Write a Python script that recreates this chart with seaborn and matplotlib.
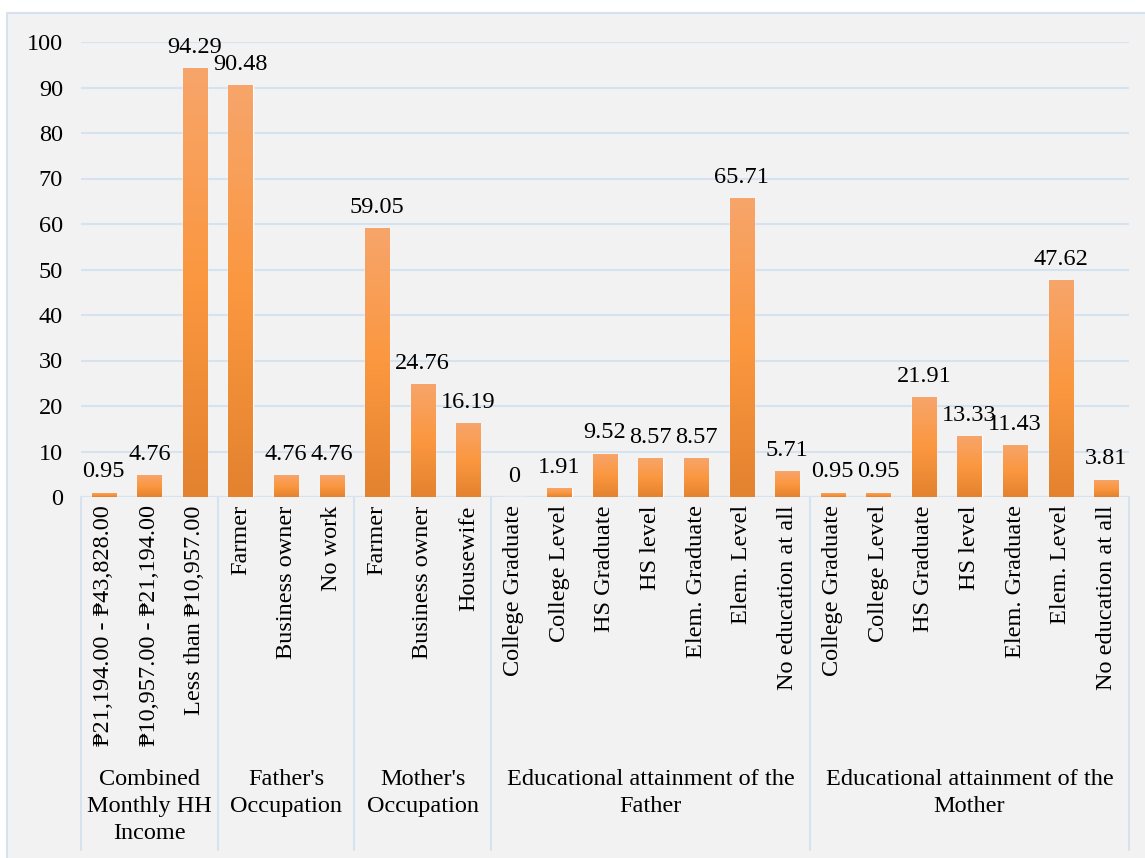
import numpy as np
import pandas as pd
import matplotlib.pyplot as plt
import matplotlib.transforms as mtransforms
from matplotlib.colors import LinearSegmentedColormap
from matplotlib.patches import Rectangle
import seaborn as sns

# --- Data ---
groups = [
    "Combined\nMonthly HH\nIncome",
    "Father's\nOccupation",
    "Mother's\nOccupation",
    "Educational attainment of the\nFather",
    "Educational attainment of the\nMother",
]
income_items = ["₱21,194.00 - ₱43,828.00", "₱10,957.00 - ₱21,194.00", "Less than ₱10,957.00"]
income_vals = [0.95, 4.76, 94.29]
father_occ_items = ["Farmer", "Business owner", "No work"]
father_occ_vals = [90.48, 4.76, 4.76]
mother_occ_items = ["Farmer", "Business owner", "Housewife"]
mother_occ_vals = [59.05, 24.76, 16.19]
educ_items = ["College Graduate", "College Level", "HS Graduate", "HS level",
              "Elem. Graduate", "Elem. Level", "No education at all"]
father_educ_vals = [0, 1.91, 9.52, 8.57, 8.57, 65.71, 5.71]
mother_educ_vals = [0.95, 0.95, 21.91, 13.33, 11.43, 47.62, 3.81]

item_lists = [income_items, father_occ_items, mother_occ_items, educ_items, educ_items]
val_lists = [income_vals, father_occ_vals, mother_occ_vals, father_educ_vals, mother_educ_vals]

rows = []
for g, items, vals in zip(groups, item_lists, val_lists):
    for it, v in zip(items, vals):
        rows.append({"group": g, "item": it, "value": v})
df = pd.DataFrame(rows)
df["slot"] = np.arange(len(df))

# --- Style ---
sns.set_style("white")
FONT = ["Liberation Serif", "DejaVu Serif"]
plt.rcParams["font.family"] = FONT
plt.rcParams["text.color"] = "black"
plt.rcParams["xtick.color"] = "black"
plt.rcParams["ytick.color"] = "black"
FS = 17.5
GRID = "#d6e2f0"
BG = "#f2f2f2"

W, H = 1145, 858
fig = plt.figure(figsize=(W / 100, H / 100), dpi=100)
fig.patch.set_facecolor("white")
fig.patches.append(Rectangle((7 / W, -10 / H), 1.1, (H - 13 + 10) / H,
                             transform=fig.transFigure, facecolor=BG,
                             edgecolor=GRID, linewidth=1.5, zorder=-10))

ax = fig.add_axes([81 / W, (H - 497) / H, (1129 - 81) / W, (497 - 42) / H])
ax.set_facecolor("none")

sns.barplot(data=df, x="slot", y="value", color="#f99a45", width=0.53,
            ax=ax, errorbar=None, zorder=2)

# gradient fill per bar
cmap = LinearSegmentedColormap.from_list("orng", ["#e3822f", "#fb973f", "#f7a56b"])
grad = np.linspace(0, 1, 256).reshape(-1, 1)
for p in ax.patches:
    x0, w, h = p.get_x(), p.get_width(), p.get_height()
    if h <= 0:
        continue
    im = ax.imshow(grad, extent=[x0, x0 + w, 0, h], origin="lower",
                   aspect="auto", cmap=cmap, zorder=3)
    im.set_clip_path(p)

ax.set_xlim(-0.5, len(df) - 0.5)
ax.set_ylim(0, 100)
ax.set_yticks(range(0, 101, 10))
ax.yaxis.grid(True, color=GRID, linewidth=1.5)
ax.set_axisbelow(True)
for s in ax.spines.values():
    s.set_visible(False)
ax.axhline(0, color=GRID, linewidth=1.5, zorder=1)

ax.tick_params(axis="y", length=0, labelsize=FS, pad=13, labelcolor="black")
ax.set_xticks(df["slot"])
ax.set_xticklabels(df["item"], rotation=90, fontsize=FS, va="top", family=FONT)
ax.tick_params(axis="x", length=0, pad=6, labelcolor="black")
ax.set_xlabel("")
ax.set_ylabel("")

# value labels
for s, v in zip(df["slot"], df["value"]):
    ax.annotate(f"{v:g}", (s, v), xytext=(0, 11), textcoords="offset points",
                ha="center", va="baseline", fontsize=FS, color="black",
                annotation_clip=False)

# group separators and labels
sizes = [len(i) for i in item_lists]
edges = np.concatenate([[0], np.cumsum(sizes)]) - 0.5
trans = mtransforms.blended_transform_factory(ax.transData, fig.transFigure)
y_top = (H - 497) / H
y_bot = (H - 850) / H
for e in edges:
    ax.plot([e, e], [y_top, y_bot], color=GRID, linewidth=1.5,
            transform=trans, clip_on=False)
for g, a, b in zip(groups, edges[:-1], edges[1:]):
    ax.text((a + b) / 2, (H - 769) / H, g, transform=trans, ha="center",
            va="top", fontsize=FS, linespacing=1.38, color="black")

fig.savefig("out.png", dpi=100)
